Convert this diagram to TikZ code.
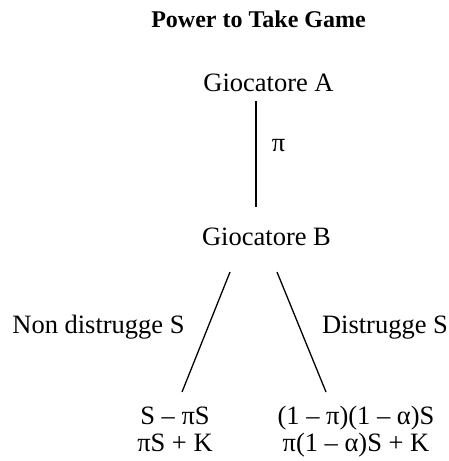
\documentclass[tikz,border=0pt]{standalone}
\usepackage{fontspec}
\setmainfont{Liberation Serif}
\begin{document}
\begin{tikzpicture}[x=1pt,y=-1pt,
  lbl/.style={inner sep=0pt,anchor=base,font=\fontsize{26.5}{27}\selectfont},
  payoff/.style={lbl,align=center},
  edge/.style={line width=1.3pt}]
\useasboundingbox (0,0) rectangle (448,461);
\node[inner sep=0pt,anchor=base,font=\bfseries\fontsize{24}{28}\selectfont] (title) at (258.5,27) {Power to Take Game};
\node[lbl] (ga) at (268.5,91) {Giocatore A};
\node[lbl] (gb) at (266.5,245) {Giocatore B};
\node[lbl] (pi) at (278.5,151) {π};
\node[lbl] (nd) at (98.5,333) {Non distrugge S};
\node[lbl] (ds) at (385,333) {Distrugge S};
\node[payoff] (pl) at (175,451) {S – πS\\πS + K};
\node[payoff] (pr) at (356,451) {(1 – π)(1 – α)S\\π(1 – α)S + K};
\coordinate (a1) at (256,101);
\coordinate (b1) at (256,207);
\coordinate (b2) at (230,272);
\coordinate (l1) at (182,392);
\coordinate (b3) at (277,272);
\coordinate (r1) at (326,392);
\draw[edge] (a1) -- (b1);
\draw[edge] (b2) -- (l1);
\draw[edge] (b3) -- (r1);
\end{tikzpicture}
\end{document}
